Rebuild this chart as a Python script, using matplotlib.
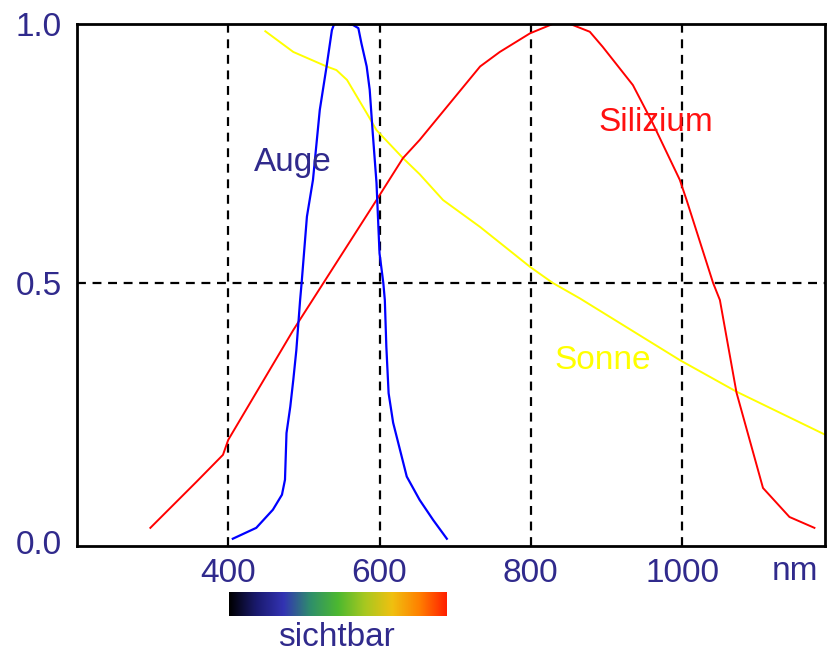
import matplotlib.pyplot as plt
import numpy as np
from matplotlib.colors import LinearSegmentedColormap

# Augenempfindlichkeit
auge_nm = [406, 437, 459, 471, 475, 477, 482, 486, 490, 495, 497, 504, 512, 521, 530, 537,
           540, 558, 565, 572, 576, 583, 587, 591, 596, 600, 605, 607, 609, 612, 618, 627,
           636, 653, 671, 689]
auge_val = [0.006, 0.027, 0.062, 0.091, 0.12, 0.21, 0.261, 0.313, 0.37, 0.467, 0.5, 0.628,
            0.699, 0.834, 0.918, 0.988, 1.0, 1.0, 0.998, 0.992, 0.963, 0.918, 0.873, 0.79,
            0.693, 0.557, 0.5, 0.467, 0.377, 0.287, 0.23, 0.178, 0.126, 0.081, 0.042, 0.006]

# Silizium-Empfindlichkeit
si_nm = [297, 358, 393, 400, 486, 596, 631, 653, 733, 759, 799, 829, 852, 878, 895, 935,
         961, 997, 1006, 1041, 1050, 1072, 1107, 1142, 1175]
si_val = [0.027, 0.116, 0.168, 0.197, 0.409, 0.66, 0.741, 0.776, 0.918, 0.946, 0.982, 1.0,
          1.0, 0.985, 0.956, 0.882, 0.809, 0.699, 0.66, 0.5, 0.467, 0.288, 0.104, 0.048, 0.027]

# Sonnenspektrum
sonne_nm = [449, 486, 530, 543, 557, 583, 596, 631, 653, 684, 733, 799, 829, 865, 997,
            1072, 1189]
sonne_val = [0.986, 0.946, 0.918, 0.911, 0.892, 0.828, 0.795, 0.741, 0.71, 0.66, 0.608,
             0.531, 0.5, 0.47, 0.351, 0.29, 0.207]

x_ticks = [400, 600, 800, 1000]
y_ticks = [0.0, 0.5, 1.0]
y_tick_labels = ['0.0', '0.5', '1.0']

spectrum_colors = ['#000000', '#1a1a6e', '#3333b3', '#2f8f6a', '#4cb830', '#a8c820',
                   '#f0c010', '#ff8000', '#ff2000']

label_color = '#302a8c'
plt.rcParams['font.family'] = ['Liberation Sans', 'DejaVu Sans']

fig = plt.figure(figsize=(8.27, 6.59), dpi=100)
ax = fig.add_axes([0.0931, 0.1715, 0.9045, 0.7921])

ax.plot(sonne_nm, sonne_val, color='#ffff00', lw=1.4)
ax.plot(si_nm, si_val, color='#ff0000', lw=1.4)
ax.plot(auge_nm, auge_val, color='#0000ff', lw=1.6)

ax.set_xlim(200, 1189)
ax.set_ylim(-0.008, 1.0)

for x in x_ticks:
    ax.axvline(x, color='black', lw=1.6, ls=(0, (4, 3)), zorder=0)
ax.axhline(0.5, color='black', lw=1.6, ls=(0, (4, 3)), zorder=0)

ax.set_xticks(x_ticks)
ax.set_yticks(y_ticks, y_tick_labels)
ax.tick_params(length=0, labelsize=24, labelcolor=label_color)
ax.tick_params(axis='x', pad=9)
ax.tick_params(axis='y', pad=11)
for s in ax.spines.values():
    s.set_linewidth(2)

ax.text(486, 0.732, 'Auge', color=label_color, fontsize=24, ha='center', va='center')
ax.text(965, 0.81, 'Silizium', color='#ff1010', fontsize=24, ha='center', va='center')
ax.text(895, 0.35, 'Sonne', color='#ffff00', fontsize=24, ha='center', va='center')
fig.text(0.961, 0.133, 'nm', color=label_color, fontsize=24, ha='center', va='center')

# Farbbalken "sichtbar"
cax = fig.add_axes([0.2769, 0.0652, 0.2636, 0.0364])
cmap = LinearSegmentedColormap.from_list('spek', spectrum_colors)
cax.imshow(np.linspace(0, 1, 256)[None, :], cmap=cmap, aspect='auto')
cax.axis('off')
fig.text(0.407, 0.032, 'sichtbar', color=label_color, fontsize=24, ha='center', va='center')

fig.savefig('out.png', dpi=100)
